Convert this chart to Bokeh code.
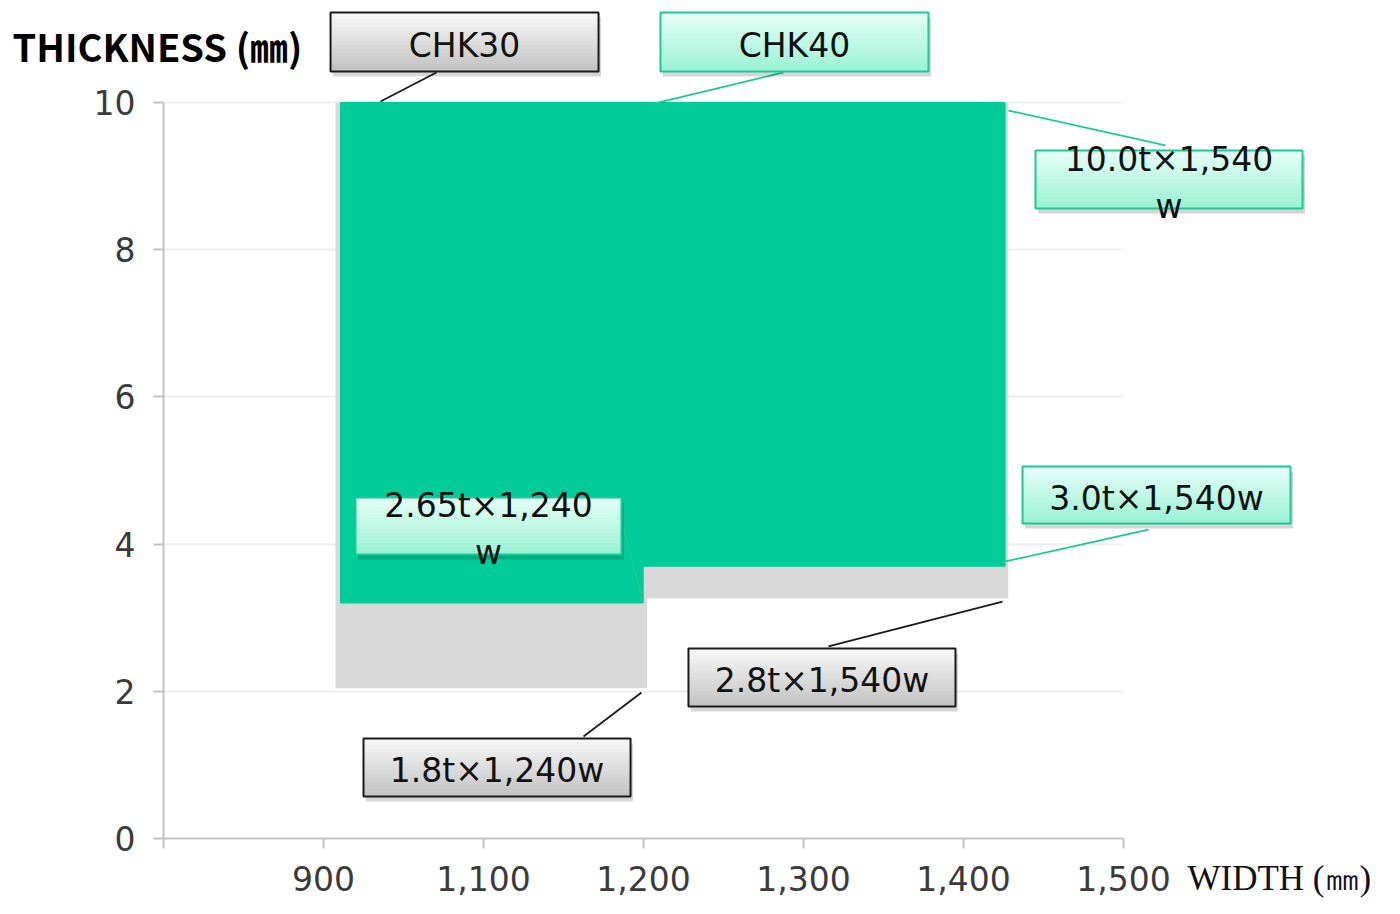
from bokeh.plotting import figure
from bokeh.models import Range1d, FixedTicker
from bokeh.core.properties import value
from bokeh.embed import file_html
from bokeh.resources import INLINE
import numpy as np

# ---------------- data ----------------
x_ticks = [900, 1000, 1100, 1200, 1300, 1400, 1500]
x_tick_labels = ["", "900", "1,100", "1,200", "1,300", "1,400", "1,500"]
y_ticks = [0, 2, 4, 6, 8, 10]

# CHK30 range (gray)
chk30_left = [1007.5, 1199.8]
chk30_right = [1202.3, 1428.0]
chk30_bottom = [2.04, 3.26]
chk30_top = [10.0, 10.0]

# CHK40 range (green)
chk40_left = [1010.6, 1199.8]
chk40_right = [1199.8, 1426.0]
chk40_bottom = [3.20, 3.70]
chk40_top = [10.0, 10.0]

# callouts
callout_text = ["CHK30", "CHK40", "10.0t\u00d71,540\nw", "3.0t\u00d71,540w",
                "2.8t\u00d71,540w", "1.8t\u00d71,240w", "2.65t\u00d71,240\nw"]
callout_style = ["gray", "mint", "mint", "mint", "gray", "gray", "mint"]
callout_left = [1004.4, 1210.6, 1445.0, 1436.9, 1228.1, 1025.0, 1020.0]
callout_right = [1171.9, 1378.1, 1611.9, 1604.4, 1395.0, 1191.9, 1186.25]
callout_top = [11.223, 11.223, 9.348, 5.054, 2.582, 1.359, 4.633]
callout_bottom = [10.421, 10.421, 8.560, 4.280, 1.793, 0.571, 3.859]
leader_x0 = [1035.6, 1204.4, 1428.1, 1426.25, 1424.4, 1198.75, 1186.25]
leader_y0 = [10.014, 9.973, 9.891, 3.764, 3.220, 1.984, 4.321]
leader_x1 = [1070.6, 1287.5, 1526.25, 1515.6, 1315.6, 1162.5, 1198.75]
leader_y1 = [10.408, 10.408, 9.416, 4.198, 2.609, 1.386, 3.300]

y_title = "THICKNESS (\u339c)"
x_title = "WIDTH (\u339c)"

# ---------------- styles ----------------
GRAY_FILL = "#d9d9d9"
GREEN_FILL = "#00cc99"
STYLE = {
    "gray": {"top": (247, 247, 247), "bot": (196, 196, 196), "line": "#1a1a1a"},
    "mint": {"top": (230, 255, 247), "bot": (156, 242, 212), "line": "#19c996"},
}

p = figure(width=1384, height=898,
           x_range=Range1d(900, 1663.125), y_range=Range1d(0, 838 / 73.6),
           output_backend="svg", toolbar_location=None,
           min_border_left=163, min_border_right=0,
           min_border_top=0, min_border_bottom=60)
p.outline_line_color = None
p.background_fill_color = "white"
p.border_fill_color = "white"

# axes
for ax in (p.xaxis, p.yaxis):
    ax.axis_line_color = "#c4c4c4"
    ax.axis_line_width = 2
    ax.major_tick_line_color = "#c4c4c4"
    ax.major_tick_line_width = 2
    ax.major_tick_in = 0
    ax.major_tick_out = 10
    ax.minor_tick_line_color = None
    ax.major_label_text_font = "DejaVu Sans"
    ax.major_label_text_font_size = "33px"
    ax.major_label_text_color = "#3a3a3a"

p.xaxis.ticker = FixedTicker(ticks=x_ticks)
p.xaxis.major_label_overrides = {t: l for t, l in zip(x_ticks, x_tick_labels)}
p.xaxis.bounds = (900, 1500)
p.xaxis.major_label_standoff = 17
p.xaxis.major_label_text_line_height = 0.8
p.yaxis.ticker = FixedTicker(ticks=y_ticks)
p.yaxis.bounds = (0, 10)
p.yaxis.major_label_standoff = 18

p.xgrid.visible = False
p.ygrid.ticker = FixedTicker(ticks=y_ticks)
p.ygrid.grid_line_color = "#efefef"
p.ygrid.grid_line_width = 2
p.ygrid.cross_bounds = (900, 1500)

# regions
p.quad(left=chk30_left, right=chk30_right, bottom=chk30_bottom, top=chk30_top,
       fill_color=GRAY_FILL, line_color=None)
p.quad(left=chk40_left, right=chk40_right, bottom=chk40_bottom, top=chk40_top,
       fill_color=GREEN_FILL, line_color=GREEN_FILL, line_width=1)

# leader lines
p.segment(x0=leader_x0, y0=leader_y0, x1=leader_x1, y1=leader_y1,
          line_color=[STYLE[s]["line"] for s in callout_style], line_width=1.8)

# callout boxes: shadow, gradient strips, border
dx, dy = 2.5 / 1.6, 5 / 73.6
p.quad(left=[l + dx for l in callout_left], right=[r + dx for r in callout_right],
       top=[t - dy for t in callout_top], bottom=[b - dy for b in callout_bottom],
       fill_color="black", fill_alpha=0.16, line_color=None)

N = 16
sl, sr, st, sb, sc = [], [], [], [], []
for i, s in enumerate(callout_style):
    edges = np.linspace(callout_top[i], callout_bottom[i], N + 1)
    c0 = np.array(STYLE[s]["top"]); c1 = np.array(STYLE[s]["bot"])
    for k in range(N):
        t = k / (N - 1)
        c = (c0 + (c1 - c0) * t).round().astype(int)
        sl.append(callout_left[i]); sr.append(callout_right[i])
        st.append(edges[k]); sb.append(edges[k + 1])
        sc.append("#%02x%02x%02x" % tuple(c))
p.quad(left=sl, right=sr, top=st, bottom=sb, fill_color=sc, line_color=sc, line_width=1)
p.quad(left=callout_left, right=callout_right, top=callout_top, bottom=callout_bottom,
       fill_color=None, line_color=[STYLE[s]["line"] for s in callout_style], line_width=2)

cx = [(l + r) / 2 for l, r in zip(callout_left, callout_right)]
cy = [(t + b) / 2 - 0.045 for t, b in zip(callout_top, callout_bottom)]
p.text(x=cx, y=cy, text=callout_text, text_align="center", text_baseline="middle",
       text_font=value("DejaVu Sans"), text_font_size="33px", text_color="#111111",
       text_line_height=1.2)

# axis titles (overlay level so they may sit outside the frame)
p.text(x=[805.6], y=[10.774], text=[y_title], level="overlay",
       text_font=value("Noto Sans CJK KR"), text_font_style="bold",
       text_font_size="38px", text_baseline="middle", text_align="left",
       text_color="black")
p.text(x=[1540.0], y=[-0.55], text=[x_title], level="overlay",
       text_font=value("Liberation Serif"), text_font_size="35px",
       text_baseline="middle", text_align="left", text_color="#111111")

open("out.html", "w").write(file_html(p, INLINE))
